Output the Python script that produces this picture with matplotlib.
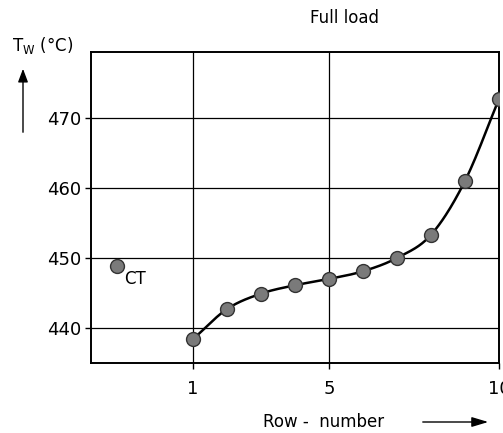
import numpy as np
import matplotlib
matplotlib.use("Agg")
import matplotlib.pyplot as plt

# wall temperature per tube row, full load
rows = [1, 2, 3, 4, 5, 6, 7, 8, 9, 10]
tw = [438.4, 442.7, 444.9, 446.1, 447.0, 448.1, 450.0, 453.3, 461.0, 472.7]
ct_x = -1.24
ct_tw = 448.9

xticks = [1, 5, 10]
yticks = [440, 450, 460, 470]


def catmull_rom(x, y, n=30):
    # smooth curve through the measured points (drawing only)
    x = np.asarray(x, float); y = np.asarray(y, float)
    px = np.concatenate([[2 * x[0] - x[1]], x, [2 * x[-1] - x[-2]]])
    py = np.concatenate([[2 * y[0] - y[1]], y, [2 * y[-1] - y[-2]]])
    xs, ys = [], []
    for i in range(1, len(px) - 2):
        t = np.linspace(0, 1, n, endpoint=False)
        for p, out in ((px, xs), (py, ys)):
            p0, p1, p2, p3 = p[i - 1], p[i], p[i + 1], p[i + 2]
            out.extend(0.5 * (2 * p1 + (-p0 + p2) * t
                              + (2 * p0 - 5 * p1 + 4 * p2 - p3) * t ** 2
                              + (-p0 + 3 * p1 - 3 * p2 + p3) * t ** 3))
    xs.append(x[-1]); ys.append(y[-1])
    return np.array(xs), np.array(ys)


plt.rcParams["font.family"] = ["DejaVu Sans"]
fig = plt.figure(figsize=(5.03, 4.33), dpi=100)
ax = fig.add_axes([91 / 503, 1 - 363 / 433, 408 / 503, 311 / 433])

ax.set_xlim(-2, 10)
ax.set_ylim(435, 479.4)

for v in [1, 5]:
    ax.axvline(v, color="black", lw=0.9, zorder=1)
for v in yticks:
    ax.axhline(v, color="black", lw=0.9, zorder=1)

cx, cy = catmull_rom(rows, tw)
ax.plot(cx, cy, color="black", lw=1.8, zorder=2)
ax.plot(rows, tw, "o", ms=10, mfc="#7a7a7a", mec="#333333", mew=1.0, zorder=3)
ax.plot([ct_x], [ct_tw], "o", ms=10, mfc="#7a7a7a", mec="#333333", mew=1.0, zorder=3)
ax.text(ct_x + 0.22, ct_tw - 0.6, "CT", fontsize=12, va="top", ha="left")

for s in ax.spines.values():
    s.set_linewidth(1.4)

ax.set_xticks(xticks)
ax.set_xticklabels([str(v) for v in xticks])
ax.set_yticks(yticks)
ax.set_yticklabels([str(v) for v in yticks])
ax.tick_params(axis="both", direction="out", length=4, width=1.0, labelsize=13, pad=3)
ax.tick_params(axis="x", pad=8)
for lbl in ax.get_xticklabels():
    lbl.set_clip_on(False)

fig.text(345 / 503, 1 - 18 / 433, "Full load", fontsize=12, ha="center", va="center")
fig.text(12 / 503, 1 - 45 / 433, r"T$_\mathregular{W}$ (°C)", fontsize=12, ha="left", va="center")
fig.text(263 / 503, 1 - 422 / 433, "Row -  number", fontsize=12, ha="left", va="center")

fig.patches.append(matplotlib.patches.FancyArrowPatch(
    (23 / 503, 1 - 135 / 433), (23 / 503, 1 - 66 / 433), transform=fig.transFigure,
    arrowstyle="-|>,head_length=8,head_width=3", color="black", lw=1.0,
    mutation_scale=1))
fig.patches.append(matplotlib.patches.FancyArrowPatch(
    (420 / 503, 1 - 422 / 433), (491 / 503, 1 - 422 / 433), transform=fig.transFigure,
    arrowstyle="-|>,head_length=10,head_width=3", color="black", lw=1.0,
    mutation_scale=1))

fig.savefig("out.png", dpi=100)
